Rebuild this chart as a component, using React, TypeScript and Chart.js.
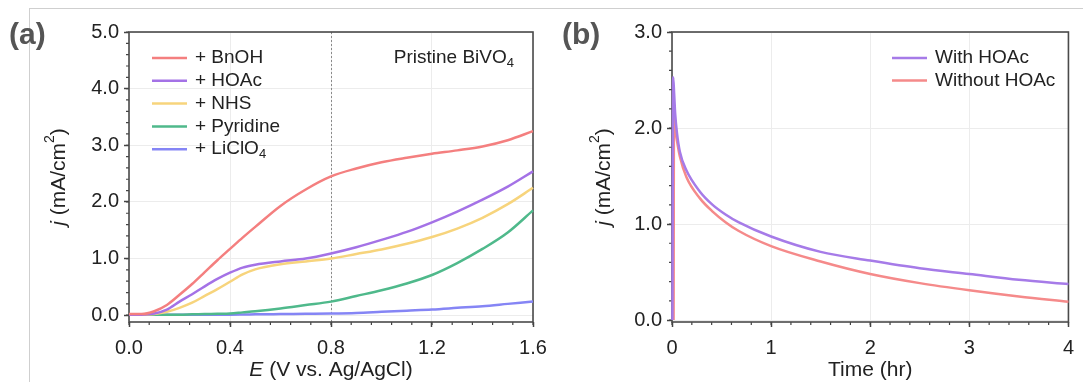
import React, { useEffect, useRef } from "react";
import { Chart, registerables } from "chart.js";

Chart.register(...registerables);

// ---------- Panel (a): LSV curves ----------
const potentialV = [0, 0.05, 0.1, 0.15, 0.2, 0.25, 0.3, 0.35, 0.4, 0.45, 0.5, 0.6, 0.7, 0.8, 0.9, 1.0, 1.1, 1.2, 1.3, 1.4, 1.5, 1.6];
const jBnOH = [0.02, 0.02, 0.07, 0.18, 0.36, 0.55, 0.76, 0.97, 1.17, 1.37, 1.56, 1.93, 2.22, 2.45, 2.59, 2.7, 2.78, 2.85, 2.91, 2.98, 3.09, 3.25];
const jHOAc = [0.01, 0.01, 0.03, 0.1, 0.24, 0.37, 0.51, 0.64, 0.75, 0.84, 0.89, 0.95, 1.0, 1.09, 1.2, 1.33, 1.47, 1.64, 1.83, 2.04, 2.27, 2.54];
const jNHS = [0.01, 0.01, 0.02, 0.06, 0.13, 0.22, 0.34, 0.46, 0.59, 0.72, 0.81, 0.9, 0.95, 1.0, 1.08, 1.16, 1.26, 1.38, 1.53, 1.72, 1.96, 2.25];
const jPyridine = [0.01, 0.01, 0.01, 0.01, 0.01, 0.015, 0.02, 0.025, 0.03, 0.05, 0.07, 0.12, 0.18, 0.24, 0.34, 0.44, 0.56, 0.71, 0.92, 1.17, 1.46, 1.85];
const jLiClO4 = [0.01, 0.01, 0.01, 0.01, 0.01, 0.01, 0.01, 0.01, 0.01, 0.012, 0.015, 0.02, 0.025, 0.03, 0.04, 0.06, 0.08, 0.1, 0.13, 0.16, 0.2, 0.24];
const labelsA = ["+ BnOH", "+ HOAc", "+ NHS", "+ Pyridine", "+ LiClO\u2084"];
const valuesA = [jBnOH, jHOAc, jNHS, jPyridine, jLiClO4];
const colorsA = ["#f47f7f", "#a472e6", "#f7d47c", "#4fb98b", "#8585f5"];
const xTicksA = [0, 0.4, 0.8, 1.2, 1.6];
const yTicksA = [0, 1, 2, 3, 4, 5];
const markerPotential = 0.8;
const annotationA = "Pristine BiVO\u2084";

// ---------- Panel (b): chronoamperometry ----------
const timeWith = [0.004, 0.012, 0.022, 0.032, 0.05, 0.08, 0.145, 0.28, 0.41, 0.54, 0.67, 1.0, 1.5, 2.0, 2.5, 3.0, 3.5, 4.0];
const jWith = [0, 2.53, 2.35, 2.15, 1.95, 1.75, 1.56, 1.34, 1.2, 1.1, 1.02, 0.87, 0.71, 0.62, 0.54, 0.48, 0.42, 0.375];
const timeWithout = [0.016, 0.02, 0.032, 0.05, 0.08, 0.145, 0.28, 0.41, 0.54, 0.67, 1.0, 1.5, 2.0, 2.5, 3.0, 3.5, 4.0];
const jWithout = [0, 2.13, 2.0, 1.87, 1.7, 1.49, 1.27, 1.13, 1.02, 0.93, 0.77, 0.61, 0.48, 0.385, 0.31, 0.245, 0.19];
const labelsB = ["With HOAc", "Without HOAc"];
const colorsB = ["#a67be8", "#f58a8a"];
const xTicksB = [0, 1, 2, 3, 4];
const yTicksB = [0, 1, 2, 3];

const FONT = '"Liberation Sans", Arial, Helvetica, sans-serif';
const TEXT = "#222";

type Part = { t: string; italic?: boolean; sup?: boolean; sub?: boolean };

const SUBS = "\u2080\u2081\u2082\u2083\u2084\u2085\u2086\u2087\u2088\u2089";

function toParts(s: string): Part[] {
  const parts: Part[] = [];
  let buf = "";
  for (const ch of s) {
    const k = SUBS.indexOf(ch);
    if (k >= 0) {
      if (buf) parts.push({ t: buf });
      buf = "";
      parts.push({ t: String(k), sub: true });
    } else buf += ch;
  }
  if (buf) parts.push({ t: buf });
  return parts;
}

function partFont(p: Part, size: number) {
  return `${p.italic ? "italic " : ""}${p.sup || p.sub ? Math.round(size * 0.68) : size}px ${FONT}`;
}

function richWidth(ctx: CanvasRenderingContext2D, parts: Part[], size: number) {
  let total = 0;
  parts.forEach((p) => {
    ctx.font = partFont(p, size);
    total += ctx.measureText(p.t).width;
  });
  return total;
}

// align: 0 = left, 0.5 = center, 1 = right
function drawRich(ctx: CanvasRenderingContext2D, parts: Part[], x0: number, y0: number, size: number, rotate: boolean, align: number) {
  ctx.save();
  ctx.translate(x0, y0);
  if (rotate) ctx.rotate(-Math.PI / 2);
  const total = richWidth(ctx, parts, size);
  let x = -total * align;
  ctx.textBaseline = "middle";
  ctx.textAlign = "left";
  ctx.fillStyle = TEXT;
  parts.forEach((p) => {
    ctx.font = partFont(p, size);
    const dy = p.sup ? -size * 0.42 : p.sub ? size * 0.3 : 0;
    ctx.fillText(p.t, x, dy);
    x += ctx.measureText(p.t).width;
  });
  ctx.restore();
}

type DecoCfg = {
  panel: string;
  panelX: number;
  xTitle: Part[];
  xTitleY: number;
  yTitleX: number;
  xMinorStep: number;
  yMinorStep: number;
  vline?: number;
  legendX: number;
  legendY: number;
  legendGap: number;
  annotation?: { text: string; x: number; y: number };
};

const LEGEND_SIZE = 19;
const TITLE_SIZE = 21;

function makeDeco(cfg: DecoCfg) {
  return {
    id: "deco",
    beforeDatasetsDraw(chart: any) {
      const { ctx, chartArea } = chart;
      const xs = chart.scales.x;
      const ys = chart.scales.y;
      ctx.save();
      if (cfg.vline !== undefined) {
        const px = xs.getPixelForValue(cfg.vline);
        ctx.strokeStyle = "#8a8a8a";
        ctx.lineWidth = 1;
        ctx.setLineDash([2, 2]);
        ctx.beginPath();
        ctx.moveTo(Math.round(px) + 0.5, chartArea.top);
        ctx.lineTo(Math.round(px) + 0.5, chartArea.bottom);
        ctx.stroke();
        ctx.setLineDash([]);
      }
      // minor ticks
      ctx.strokeStyle = "#444";
      ctx.lineWidth = 1.2;
      ctx.beginPath();
      for (let v = xs.min; v <= xs.max + 1e-9; v += cfg.xMinorStep) {
        const px = xs.getPixelForValue(v);
        ctx.moveTo(px, chartArea.bottom);
        ctx.lineTo(px, chartArea.bottom + 3);
      }
      for (let v = 0; v <= ys.max + 1e-9; v += cfg.yMinorStep) {
        const py = ys.getPixelForValue(v);
        ctx.moveTo(chartArea.left, py);
        ctx.lineTo(chartArea.left - 3, py);
      }
      ctx.stroke();
      // frame
      ctx.strokeStyle = "#4a4a4a";
      ctx.lineWidth = 1.6;
      ctx.strokeRect(chartArea.left, chartArea.top, chartArea.right - chartArea.left, chartArea.bottom - chartArea.top);
      ctx.restore();
    },
    afterDraw(chart: any) {
      const { ctx, chartArea } = chart;
      ctx.save();
      // legend
      chart.data.datasets.forEach((ds: any, i: number) => {
        const y = cfg.legendY + i * cfg.legendGap;
        ctx.strokeStyle = ds.borderColor;
        ctx.lineWidth = 2.5;
        ctx.beginPath();
        ctx.moveTo(cfg.legendX, y);
        ctx.lineTo(cfg.legendX + 35, y);
        ctx.stroke();
        drawRich(ctx, toParts(ds.label), cfg.legendX + 43, y, LEGEND_SIZE, false, 0);
      });
      if (cfg.annotation) {
        drawRich(ctx, toParts(cfg.annotation.text), cfg.annotation.x, cfg.annotation.y, LEGEND_SIZE, false, 1);
      }
      // panel label
      ctx.font = `bold 30px ${FONT}`;
      ctx.fillStyle = "#555";
      ctx.textAlign = "left";
      ctx.textBaseline = "middle";
      ctx.fillText(cfg.panel, cfg.panelX, 36);
      ctx.restore();
      // titles
      const cx = (chartArea.left + chartArea.right) / 2;
      const cy = (chartArea.top + chartArea.bottom) / 2;
      drawRich(ctx, cfg.xTitle, cx, cfg.xTitleY, TITLE_SIZE, false, 0.5);
      drawRich(ctx, [{ t: "j", italic: true }, { t: " (mA/cm" }, { t: "2", sup: true }, { t: ")" }], cfg.yTitleX, cy, TITLE_SIZE, true, 0.5);
    },
  };
}

function axis(min: number, max: number, ticks: number[], digits: number, size: { w?: number; h?: number }) {
  return {
    type: "linear",
    min,
    max,
    afterFit: (s: any) => {
      if (size.w !== undefined) s.width = size.w;
      if (size.h !== undefined) s.height = size.h;
    },
    afterBuildTicks: (s: any) => {
      s.ticks = ticks.map((v) => ({ value: v }));
    },
    ticks: {
      autoSkip: false,
      maxRotation: 0,
      padding: size.h !== undefined ? 9 : 5,
      color: TEXT,
      font: { size: 20, family: FONT },
      callback: (v: any) => Number(v).toFixed(digits),
    },
    grid: { color: "#ececec", lineWidth: 1, tickLength: 5, tickColor: "#444", tickWidth: 1.5 },
    border: { display: false },
  };
}

function lineDs(label: string, xs: number[], ys: number[], color: string) {
  return {
    label,
    data: xs.map((x, k) => ({ x, y: ys[k] })),
    borderColor: color,
    borderWidth: 2.5,
    pointRadius: 0,
    cubicInterpolationMode: "monotone",
    fill: false,
    clip: 3,
  };
}

export default function App() {
  const refA = useRef<HTMLCanvasElement>(null);
  const refB = useRef<HTMLCanvasElement>(null);

  useEffect(() => {
    const chartA = new Chart(refA.current as HTMLCanvasElement, {
      type: "line",
      data: {
        datasets: valuesA.map((vals, i) => lineDs(labelsA[i], potentialV, vals, colorsA[i])),
      },
      options: {
        animation: false,
        responsive: false,
        devicePixelRatio: 1,
        layout: { padding: { left: 0, top: 32, right: 27, bottom: 0 } },
        plugins: { legend: { display: false }, tooltip: { enabled: false } },
        scales: {
          x: axis(0, 1.6, xTicksA, 1, { h: 60 }),
          y: axis(-0.12, 5, yTicksA, 1, { w: 129 }),
        },
      } as any,
      plugins: [
        makeDeco({
          panel: "(a)",
          panelX: 9,
          xTitle: [{ t: "E", italic: true }, { t: " (V vs. Ag/AgCl)" }],
          xTitleY: 370,
          yTitleX: 59,
          xMinorStep: 0.08,
          yMinorStep: 0.2,
          vline: markerPotential,
          legendX: 152,
          legendY: 58,
          legendGap: 22.8,
          annotation: { text: annotationA, x: 514, y: 58 },
        }) as any,
      ],
    } as any);

    const chartB = new Chart(refB.current as HTMLCanvasElement, {
      type: "line",
      data: {
        datasets: [
          lineDs(labelsB[0], timeWith, jWith, colorsB[0]),
          lineDs(labelsB[1], timeWithout, jWithout, colorsB[1]),
        ],
      },
      options: {
        animation: false,
        responsive: false,
        devicePixelRatio: 1,
        layout: { padding: { left: 0, top: 32, right: 8, bottom: 0 } },
        plugins: { legend: { display: false }, tooltip: { enabled: false } },
        scales: {
          x: axis(0, 4, xTicksB, 0, { h: 60 }),
          y: axis(-0.02, 3, yTicksB, 1, { w: 112 }),
        },
      } as any,
      plugins: [
        makeDeco({
          panel: "(b)",
          panelX: 2,
          xTitle: [{ t: "Time (hr)" }],
          xTitleY: 370,
          yTitleX: 44,
          xMinorStep: 0.2,
          yMinorStep: 0.2,
          legendX: 332,
          legendY: 58,
          legendGap: 22.5,
        }) as any,
      ],
    } as any);

    return () => {
      chartA.destroy();
      chartB.destroy();
    };
  }, []);

  return (
    <div style={{ position: "absolute", left: 0, top: 0, width: 1083, height: 382, background: "#fff", overflow: "hidden" }}>
      <div
        style={{
          position: "absolute",
          left: 29,
          top: 8,
          width: 1100,
          height: 400,
          borderTop: "1px solid #cfcfcf",
          borderLeft: "1px solid #cfcfcf",
        }}
      />
      <canvas ref={refA} width={560} height={382} style={{ position: "absolute", left: 0, top: 0 }} />
      <canvas ref={refB} width={523} height={382} style={{ position: "absolute", left: 560, top: 0 }} />
    </div>
  );
}
